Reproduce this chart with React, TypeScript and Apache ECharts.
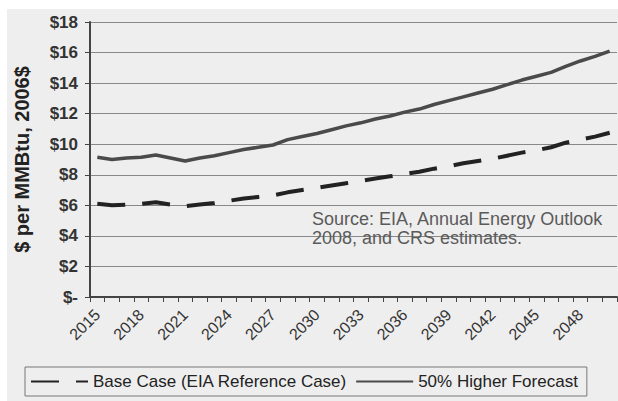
import React, { useEffect, useRef } from "react";
import * as echarts from "echarts";

const years: string[] = [
  "2015","2016","2017","2018","2019","2020","2021","2022","2023","2024",
  "2025","2026","2027","2028","2029","2030","2031","2032","2033","2034",
  "2035","2036","2037","2038","2039","2040","2041","2042","2043","2044",
  "2045","2046","2047","2048","2049","2050",
];

const baseCase: number[] = [
  6.1, 6.0, 6.05, 6.1, 6.2, 6.05, 5.95, 6.05, 6.15, 6.3,
  6.45, 6.55, 6.65, 6.85, 7.0, 7.15, 7.3, 7.45, 7.6, 7.75,
  7.9, 8.05, 8.2, 8.4, 8.55, 8.75, 8.9, 9.05, 9.25, 9.45,
  9.6, 9.8, 10.1, 10.3, 10.5, 10.75,
];

const higherForecast: number[] = [
  9.15, 9.0, 9.1, 9.15, 9.3, 9.1, 8.9, 9.1, 9.25, 9.45,
  9.65, 9.8, 9.95, 10.3, 10.5, 10.7, 10.95, 11.2, 11.4, 11.65,
  11.85, 12.1, 12.3, 12.6, 12.85, 13.1, 13.35, 13.6, 13.9, 14.2,
  14.45, 14.7, 15.1, 15.45, 15.75, 16.1,
];

const seriesNames: string[] = ["Base Case (EIA Reference Case)", "50% Higher Forecast"];
const yAxisTitle = "$ per MMBtu, 2006$";
const sourceNote = "Source: EIA, Annual Energy Outlook\n2008, and CRS estimates.";

const FONT = "'Liberation Sans', Arial, sans-serif";

export default function App() {
  const ref = useRef<HTMLDivElement>(null);

  useEffect(() => {
    document.body.style.margin = "0";
    if (!ref.current) return;
    const chart = echarts.init(ref.current, undefined, { renderer: "svg" });
    chart.setOption({
      animation: false,
      backgroundColor: "#ffffff",
      graphic: [
        {
          type: "rect",
          z: -10,
          silent: true,
          shape: { x: 7, y: 9, width: 611, height: 392 },
          style: { fill: "#eeeeee" },
        },
        {
          type: "text",
          left: 312,
          top: 209,
          z: 10,
          style: {
            text: sourceNote,
            fontFamily: FONT,
            fontSize: 18,
            lineHeight: 19,
            fill: "#5a5a5a",
          },
        },
      ],
      grid: { left: 90, right: 1, top: 22, bottom: 104, containLabel: false },
      legend: {
        left: 25,
        top: 367,
        padding: [6, 9, 6, 5],
        itemGap: 8,
        itemWidth: 57,
        itemHeight: 14,
        borderColor: "#777777",
        borderWidth: 1,
        backgroundColor: "#eeeeee",
        itemStyle: { opacity: 0 },
        textStyle: { fontFamily: FONT, fontSize: 17, color: "#222222" },
        data: seriesNames,
      },
      xAxis: {
        type: "category",
        data: years,
        boundaryGap: true,
        axisLine: { lineStyle: { color: "#444444", width: 2 } },
        axisTick: { show: true, interval: 0, length: 5, lineStyle: { color: "#444444", width: 1 } },
        axisLabel: {
          interval: 2,
          rotate: 45,
          margin: 15,
          fontFamily: FONT,
          fontSize: 16,
          color: "#333333",
        },
        splitLine: { show: false },
      },
      yAxis: {
        type: "value",
        min: 0,
        max: 18,
        interval: 2,
        name: yAxisTitle,
        nameLocation: "middle",
        nameGap: 58,
        nameRotate: 90,
        nameTextStyle: { fontFamily: FONT, fontSize: 20, fontWeight: "bold", color: "#222222" },
        axisLine: { show: true, lineStyle: { color: "#444444", width: 2 } },
        axisTick: { show: true, length: 5, lineStyle: { color: "#444444", width: 1 } },
        axisLabel: {
          margin: 12,
          fontFamily: FONT,
          fontSize: 17,
          fontWeight: "bold",
          color: "#333333",
          formatter: (v: number) => (v === 0 ? "$-" : "$" + v),
        },
        splitLine: { show: true, lineStyle: { color: "#888888", width: 1.2 } },
      },
      series: [
        {
          name: seriesNames[0],
          type: "line",
          data: baseCase,
          symbol: "none",
          lineStyle: { color: "#222222", width: 4, type: [28, 17] },
          itemStyle: { color: "#222222" },
          z: 3,
        },
        {
          name: seriesNames[1],
          type: "line",
          data: higherForecast,
          symbol: "none",
          lineStyle: { color: "#4a4a4a", width: 3.5 },
          itemStyle: { color: "#4a4a4a" },
          z: 3,
        },
      ],
    });
    return () => chart.dispose();
  }, []);

  return <div ref={ref} style={{ width: 618, height: 401 }} />;
}
